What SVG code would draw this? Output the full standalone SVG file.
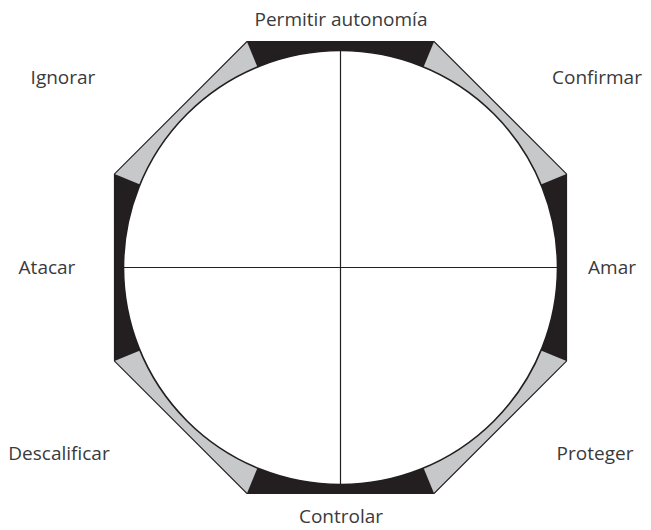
<svg xmlns="http://www.w3.org/2000/svg" width="651" height="530" viewBox="0 0 651 530">
  <style>
    .lbl { font-family: "Open Sans", "Noto Sans", "Liberation Sans", sans-serif; font-size: 19px; fill: #3a3a3a; text-anchor: middle; }
    .blk { fill: #231f20; stroke: none; }
    .ln { stroke: #231f20; stroke-width: 1.2; fill: none; }
  </style>
  <rect width="651" height="530" fill="#ffffff"/>
  <g id="octagon">
    <polygon points="246.9,41.5 434.1,41.5 566.5,173.9 566.5,361.1 434.1,493.5 246.9,493.5 114.5,361.1 114.5,173.9" fill="#c7c8ca" stroke="none"/>
    <polygon class="blk" points="246.9,41.5 434.1,41.5 423.54,67.02 257.46,67.02"/>
    <polygon class="blk" points="566.5,173.9 566.5,361.1 540.98,350.54 540.98,184.46"/>
    <polygon class="blk" points="434.1,493.5 246.9,493.5 257.46,467.98 423.54,467.98"/>
    <polygon class="blk" points="114.5,361.1 114.5,173.9 140.02,184.46 140.02,350.54"/>
    <polygon class="ln" points="246.9,41.5 434.1,41.5 566.5,173.9 566.5,361.1 434.1,493.5 246.9,493.5 114.5,361.1 114.5,173.9"/>
  </g>
  <g id="circle">
    <circle cx="340.5" cy="267.5" r="217" fill="#ffffff" stroke="#231f20" stroke-width="1.6"/>
  </g>
  <g id="axes">
    <line class="ln" x1="340.5" y1="50.5" x2="340.5" y2="484.5"/>
    <line class="ln" x1="123.5" y1="267.5" x2="557.5" y2="267.5"/>
  </g>
  <g id="labels">
    <text class="lbl" x="341" y="26">Permitir autonomía</text>
    <text class="lbl" x="63" y="84">Ignorar</text>
    <text class="lbl" x="597" y="84">Confirmar</text>
    <text class="lbl" x="47" y="274">Atacar</text>
    <text class="lbl" x="612" y="274">Amar</text>
    <text class="lbl" x="59" y="460">Descalificar</text>
    <text class="lbl" x="595" y="460">Proteger</text>
    <text class="lbl" x="341" y="523">Controlar</text>
  </g>
</svg>
